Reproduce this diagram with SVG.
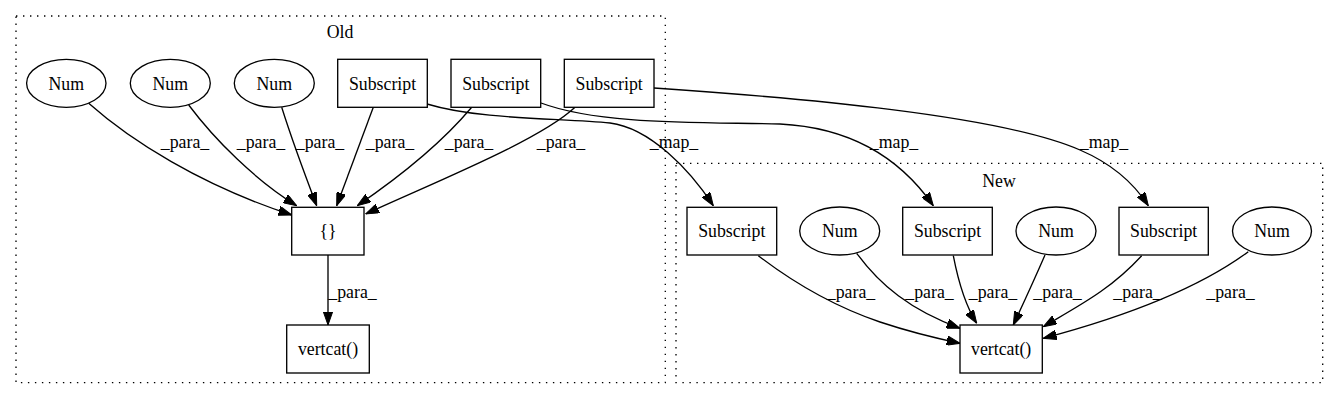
<svg xmlns="http://www.w3.org/2000/svg" width="1339" height="400" viewBox="0 0 1339 400" font-family="'Liberation Serif', 'DejaVu Serif', serif">
<defs>
<style>
text{font-family:'Liberation Serif','DejaVu Serif',serif;font-size:17.8px;fill:#000;text-anchor:middle}
.cl{fill:none;stroke:#000;stroke-width:1.33;stroke-dasharray:1.4,5.6}
.nd{fill:#fff;stroke:#000;stroke-width:1.33}
.ed{fill:none;stroke:#000;stroke-width:1.33;marker-end:url(#ah)}
</style>
<marker id="ah" viewBox="0 0 13.3 9.4" refX="13.3" refY="4.7" markerWidth="13.3" markerHeight="9.4" markerUnits="userSpaceOnUse" orient="auto">
<path d="M0,0 L13.3,4.7 L0,9.4 z" fill="#000" stroke="#000" stroke-width="1"/>
</marker>
</defs>
<rect width="1339" height="400" fill="#fff"/>
<g id="cluster_old">
<rect class="cl" x="16" y="16" width="649.3" height="366.7"/>
<text x="340" y="38">Old</text>
</g>
<g id="cluster_new">
<rect class="cl" x="676" y="163.3" width="646.7" height="219.4"/>
<text x="999" y="186.7">New</text>
</g>
<g id="connectors">
<path class="ed" d="M88.7,103.3 C130,140 200,185 291.7,215"/>
<path class="ed" d="M188.7,105 C215,140 255,180 296.7,205.7"/>
<path class="ed" d="M281.7,107.3 C292,140 305,175 316.7,205.7"/>
<path class="ed" d="M373.3,107.3 C362,138 348,175 336.7,205.7"/>
<path class="ed" d="M471.7,107.3 C440,145 395,180 357.3,205.7"/>
<path class="ed" d="M575,107.3 C540,140 440,180 365.7,214"/>
<path class="ed" d="M328,255 L328,325"/>
<path class="ed" d="M427,104 C480,120 560,118 610,123 C650,128 690,170 713.3,205.7"/>
<path class="ed" d="M541,103 C600,125 700,122 780,124 C860,128 905,165 933.3,205.7"/>
<path class="ed" d="M654,88 C800,98 1000,115 1080,150 C1115,165 1135,185 1148.3,205.7"/>
<path class="ed" d="M758.3,255.7 C790,280 830,305 880,322 C910,332 935,338 960,343.3"/>
<path class="ed" d="M856.7,253.3 C880,285 910,310 960,328.3"/>
<path class="ed" d="M953.3,255.7 C958,280 965,305 976.7,323.3"/>
<path class="ed" d="M1045,255 C1035,278 1024,302 1013.3,325"/>
<path class="ed" d="M1141.7,255.7 C1110,290 1080,305 1043.3,326.7"/>
<path class="ed" d="M1248.3,251.7 C1210,280 1150,310 1043.3,338.3"/>
<g id="edge_labels">
<text x="185" y="148">_para_</text>
<text x="261" y="148">_para_</text>
<text x="320" y="148">_para_</text>
<text x="390" y="148">_para_</text>
<text x="469" y="148">_para_</text>
<text x="561" y="148">_para_</text>
<text x="352.5" y="298">_para_</text>
<text x="674" y="148">_map_</text>
<text x="894" y="148">_map_</text>
<text x="1104" y="148">_map_</text>
<text x="851" y="298">_para_</text>
<text x="929.5" y="298">_para_</text>
<text x="993" y="298">_para_</text>
<text x="1057.5" y="298">_para_</text>
<text x="1137.5" y="298">_para_</text>
<text x="1230.5" y="298">_para_</text>
</g>
</g>
<g id="old_num1"><ellipse class="nd" cx="66.3" cy="83.3" rx="39.7" ry="24"/><text x="66.3" y="89.5">Num</text></g>
<g id="old_num2"><ellipse class="nd" cx="170.3" cy="83.3" rx="40" ry="24"/><text x="170.3" y="89.5">Num</text></g>
<g id="old_num3"><ellipse class="nd" cx="274.3" cy="83.3" rx="40" ry="24"/><text x="274.3" y="89.5">Num</text></g>
<g id="old_sub1"><rect class="nd" x="337.7" y="59.3" width="89.6" height="48"/><text x="382.5" y="89.5">Subscript</text></g>
<g id="old_sub2"><rect class="nd" x="451" y="59.3" width="89.7" height="48"/><text x="495.8" y="89.5">Subscript</text></g>
<g id="old_sub3"><rect class="nd" x="564.3" y="59.3" width="89.7" height="48"/><text x="609.2" y="89.5">Subscript</text></g>
<g id="old_braces"><rect class="nd" x="291.7" y="207.3" width="72.3" height="47.7"/><text x="328" y="237.2">{}</text></g>
<g id="old_vertcat"><rect class="nd" x="286.7" y="325" width="82.6" height="48"/><text x="328" y="355.2">vertcat()</text></g>
<g id="new_sub1"><rect class="nd" x="687" y="207.3" width="89.7" height="47.7"/><text x="731.8" y="237.2">Subscript</text></g>
<g id="new_num1"><ellipse class="nd" cx="839.7" cy="231" rx="40" ry="24"/><text x="839.7" y="237.2">Num</text></g>
<g id="new_sub2"><rect class="nd" x="902.7" y="207.3" width="89.6" height="47.7"/><text x="947.5" y="237.2">Subscript</text></g>
<g id="new_num2"><ellipse class="nd" cx="1056" cy="231" rx="40" ry="24"/><text x="1056" y="237.2">Num</text></g>
<g id="new_sub3"><rect class="nd" x="1119" y="207.3" width="89.3" height="47.7"/><text x="1163.7" y="237.2">Subscript</text></g>
<g id="new_num3"><ellipse class="nd" cx="1272" cy="231" rx="39.5" ry="24"/><text x="1272" y="237.2">Num</text></g>
<g id="new_vertcat"><rect class="nd" x="960" y="325" width="82.3" height="48"/><text x="1001.2" y="355.2">vertcat()</text></g>
</svg>
